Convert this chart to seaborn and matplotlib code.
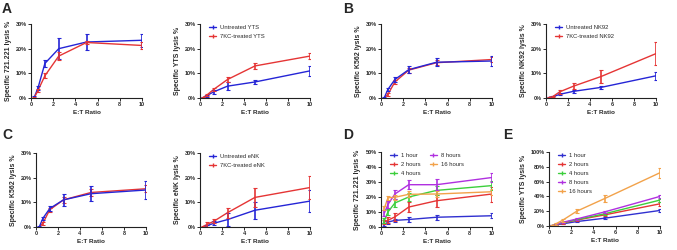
import numpy as np
import pandas as pd
import seaborn as sns
import matplotlib.pyplot as plt
from matplotlib.ticker import FuncFormatter

sns.set_style("ticks")
plt.rcParams['font.family'] = ['Liberation Sans', 'DejaVu Sans']

# E:T ratios used in every panel
ratios = [0.3125, 0.625, 1.25, 2.5, 5, 10]

# A - 721.221 / YTS
a1_untreated = [0.5, 4.0, 14.0, 20.0, 22.7, 23.4]
a1_untreated_err = [0.5, 0.8, 1.5, 4.3, 3.3, 2.7]
a1_treated = [0.3, 3.0, 9.0, 17.0, 22.5, 21.3]
a1_treated_err = [0.3, 0.6, 1.0, 1.5, 0.8, 1.3]

a2_untreated = [0.2, 1.0, 2.5, 4.8, 6.5, 11.0]
a2_untreated_err = [0.2, 0.4, 0.7, 1.5, 0.7, 2.0]
a2_treated = [0.3, 1.2, 3.5, 7.5, 13.0, 17.0]
a2_treated_err = [0.2, 0.4, 0.6, 1.0, 1.3, 1.2]

# B - K562 / NK92
b1_untreated = [0.3, 3.5, 7.5, 11.5, 14.5, 15.0]
b1_untreated_err = [0.3, 0.6, 1.0, 1.3, 1.6, 2.0]
b1_treated = [0.1, 1.5, 6.5, 11.3, 14.3, 15.6]
b1_treated_err = [0.1, 0.5, 0.8, 1.0, 1.0, 1.2]

b2_untreated = [0.3, 0.5, 1.5, 2.7, 4.3, 9.0]
b2_untreated_err = [0.2, 0.3, 0.4, 0.6, 0.7, 1.5]
b2_treated = [0.3, 0.6, 2.5, 4.8, 8.7, 18.0]
b2_treated_err = [0.2, 0.3, 0.8, 1.3, 2.5, 4.7]

# C - K562 / eNK
c1_untreated = [0.2, 3.5, 7.5, 11.0, 13.5, 15.0]
c1_untreated_err = [0.2, 0.6, 1.2, 2.5, 3.0, 3.5]
c1_treated = [0.1, 1.5, 7.0, 11.0, 14.0, 15.5]
c1_treated_err = [0.1, 0.5, 0.8, 1.2, 1.5, 1.5]

c2_untreated = [0.1, 0.5, 1.5, 3.0, 6.8, 10.5]
c2_untreated_err = [0.1, 0.5, 0.8, 2.5, 3.5, 4.5]
c2_treated = [0.3, 1.0, 2.3, 5.8, 12.0, 16.0]
c2_treated_err = [0.3, 1.0, 0.8, 2.0, 3.8, 4.5]

# D / E - time course
hours = ["1 hour", "2 hours", "4 hours", "8 hours", "16 hours"]
d_values = [
    [1.5, 3.3, 4.4, 5.0, 6.5, 7.5],
    [3.3, 4.5, 6.7, 13.3, 17.5, 22.0],
    [4.5, 10.0, 16.0, 20.0, 24.4, 27.6],
    [9.5, 15.0, 22.0, 28.2, 28.2, 33.0],
    [12.7, 19.5, 19.8, 21.8, 22.0, 23.5],
]
d_errors = [
    [1.0, 1.0, 1.2, 1.5, 1.8, 1.8],
    [1.5, 2.0, 2.5, 3.5, 4.0, 5.0],
    [1.5, 2.0, 2.5, 2.5, 3.0, 3.0],
    [2.0, 2.5, 3.0, 3.0, 3.5, 3.0],
    [1.5, 1.5, 1.5, 2.0, 2.0, 2.0],
]
e_values = [
    [0.5, 1.5, 3.0, 6.0, 10.5, 21.0],
    [0.5, 2.0, 4.0, 8.0, 15.0, 30.0],
    [0.5, 2.0, 4.5, 8.5, 16.5, 35.0],
    [0.5, 2.2, 5.0, 9.5, 19.0, 40.0],
    [1.0, 3.0, 8.0, 20.0, 37.0, 72.0],
]
e_errors = [
    [0.3, 0.5, 0.8, 1.0, 1.5, 2.0],
    [0.3, 0.5, 0.8, 1.0, 1.5, 2.5],
    [0.3, 0.5, 0.8, 1.0, 1.5, 2.0],
    [0.3, 0.5, 0.8, 1.2, 1.5, 2.0],
    [0.5, 1.0, 2.0, 3.0, 5.0, 7.0],
]

blue = "#2525d6"
red = "#e53535"
hour_colors = ["#3030d0", "#e53535", "#3ccf3c", "#b030e0", "#f2a24a"]
text_col = "#2a2a2a"


def panel(ax, names, values, errors, colors, ylabel, ymax, ystep, legend=None):
    df = pd.DataFrame({
        "ratio": ratios * len(names),
        "lysis": [v for vals in values for v in vals],
        "group": [n for n in names for _ in ratios],
    })
    sns.lineplot(data=df, x="ratio", y="lysis", hue="group", hue_order=names,
                 palette=colors, errorbar=None, linewidth=1.0, ax=ax, legend=False)
    for vals, errs, col in zip(values, errors, colors):
        ax.errorbar(ratios, vals, yerr=errs, fmt="none", ecolor=col,
                    elinewidth=1.2, capsize=1.3, capthick=0.8)
    ax.set_xlim(0, 10)
    ax.set_ylim(0, ymax)
    ax.set_xticks([0, 2, 4, 6, 8, 10])
    ax.set_yticks(np.arange(0, ymax + 0.1, ystep))
    ax.yaxis.set_major_formatter(FuncFormatter(lambda v, p: f"{v:.0f}%"))
    ax.set_xlabel("E:T Ratio", fontsize=4.6, fontweight="bold", labelpad=2, color=text_col)
    ax.set_ylabel(ylabel, fontsize=5, fontweight="bold", labelpad=3, color=text_col)
    ax.tick_params(length=2, width=0.7, pad=1, colors=text_col)
    for lab in ax.get_xticklabels() + ax.get_yticklabels():
        lab.set_fontsize(4.0)
        lab.set_fontweight("bold")
    for s in ["left", "bottom"]:
        ax.spines[s].set_linewidth(0.8)
        ax.spines[s].set_color("#222222")
    sns.despine(ax=ax)
    if legend is not None:
        handles = [plt.Line2D([], [], color=c, lw=1.0, marker="|", markersize=2.5)
                   for c in colors]
        ax.legend(handles, names, frameon=False, fontsize=4.2, loc="upper left",
                  bbox_to_anchor=(0.05, 1.04), handlelength=1.2, handletextpad=0.7,
                  labelspacing=0.7, ncol=legend, columnspacing=1.5, borderaxespad=0.2,
                  labelcolor=text_col)


fig = plt.figure(figsize=(6.77, 2.5), dpi=100)
W, H = 677, 250


def add_axes(x0, x1, y0, y1):
    return fig.add_axes([x0 / W, 1 - y1 / H, (x1 - x0) / W, (y1 - y0) / H])


ax = add_axes(31, 142, 24, 98)
panel(ax, ["Untreated YTS", "7KC-treated YTS"], [a1_untreated, a1_treated],
      [a1_untreated_err, a1_treated_err], [blue, red], "Specific 721.221 lysis %", 30, 10)
ax = add_axes(200, 310, 24, 98)
panel(ax, ["Untreated YTS", "7KC-treated YTS"], [a2_untreated, a2_treated],
      [a2_untreated_err, a2_treated_err], [blue, red], "Specific YTS lysis %", 30, 10, legend=1)

ax = add_axes(381, 492, 24, 98)
panel(ax, ["Untreated NK92", "7KC-treated NK92"], [b1_treated, b1_untreated],
      [b1_treated_err, b1_untreated_err], [red, blue], "Specific K562 lysis %", 30, 10)
ax = add_axes(546, 656, 24, 98)
panel(ax, ["Untreated NK92", "7KC-treated NK92"], [b2_untreated, b2_treated],
      [b2_untreated_err, b2_treated_err], [blue, red], "Specific NK92 lysis %", 30, 10, legend=1)

ax = add_axes(36, 146, 153, 227)
panel(ax, ["Untreated eNK", "7KC-treated eNK"], [c1_treated, c1_untreated],
      [c1_treated_err, c1_untreated_err], [red, blue], "Specific K562 lysis %", 30, 10)
ax = add_axes(200, 310, 153, 227)
panel(ax, ["Untreated eNK", "7KC-treated eNK"], [c2_untreated, c2_treated],
      [c2_untreated_err, c2_treated_err], [blue, red], "Specific eNK lysis %", 30, 10, legend=1)

ax = add_axes(381, 492, 152, 227)
panel(ax, hours, d_values, d_errors, hour_colors, "Specific 721.221 lysis %", 50, 10, legend=2)
ax = add_axes(549, 660, 152, 226)
panel(ax, hours, e_values, e_errors, hour_colors, "Specific YTS lysis %", 100, 20, legend=1)

for letter, x, y in [("A", 2, 2), ("B", 343, 2), ("C", 2, 128), ("D", 343, 128), ("E", 503, 128)]:
    fig.text(x / W, 1 - y / H, letter, fontsize=10, fontweight="bold", va="top", ha="left")

fig.savefig("out.png", dpi=100)
